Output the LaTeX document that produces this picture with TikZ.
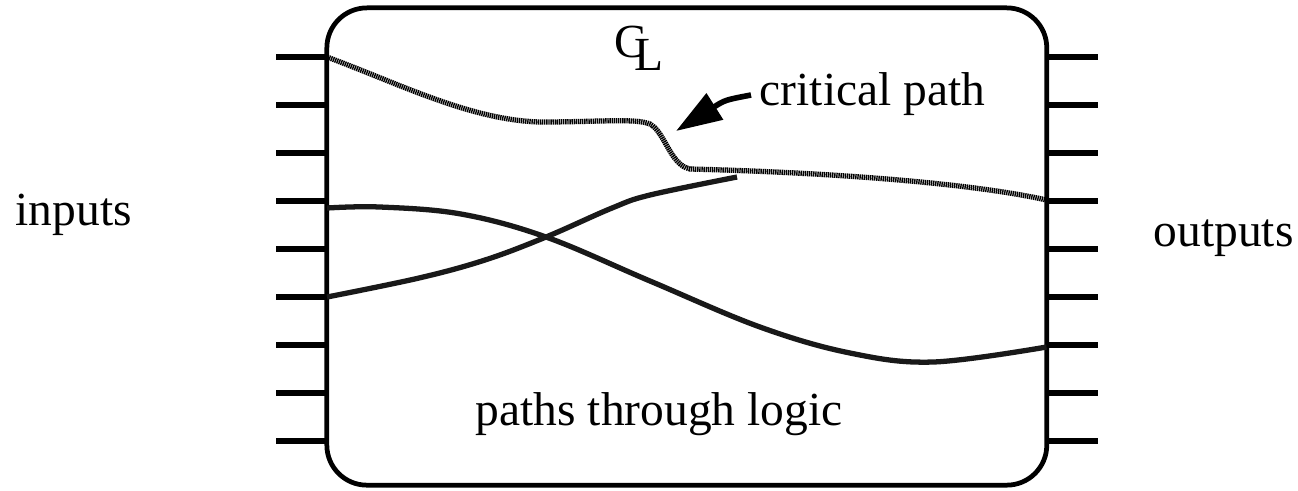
\documentclass[tikz,border=0pt]{standalone}
\usepackage{fontspec}
\setmainfont{Liberation Serif}
\usetikzlibrary{arrows.meta}
\begin{document}
\begin{tikzpicture}[x=0.01cm,y=-0.01cm,
  stub/.style={line width=1.75pt},
  wire/.style={line width=1.5pt, line join=round, draw=black!90},
  crit/.style={line width=1.5pt, dash pattern=on 0.4pt off 0.2pt},
  lbl/.style={anchor=base west, inner sep=0pt, font=\fontsize{13.5}{16}\selectfont}]
\useasboundingbox[fill=white] (0,0) rectangle (1298,490);
\node[draw, line width=1.35pt, rounded corners=0.4cm, minimum width=7.195cm, minimum height=4.77cm, inner sep=0pt] (box) at (686.8,246.5) {};
\foreach \i in {0,...,8} {
  \draw[stub] (276,{56.7+48*\i}) -- (327,{56.7+48*\i});
  \draw[stub] (1046,{56.7+48*\i}) -- (1098,{56.7+48*\i});
}
% end points
\coordinate (cin) at (327,57);
\coordinate (cout) at (1046.5,200);
\coordinate (ain) at (327,208);
\coordinate (aout) at (1046.5,347);
\coordinate (bin) at (327,297);
\coordinate (bend) at (737,177);
\coordinate (atail) at (751,95);
\coordinate (atip) at (676,131);
% paths
\draw[wire] plot[smooth, tension=0.6] coordinates {(ain) (380,207) (461,214) (546,237) (650,281) (760,327) (850,353) (933,362) (1046.5,347)};
\draw[wire] plot[smooth, tension=0.6] coordinates {(bin) (419,278) (485,260) (546,237) (612,208) (650,195) (bend)};
\draw[crit] (cin) .. controls (400,84) and (470,120) .. (540,122)
  .. controls (600,122) and (635,118) .. (650,124)
  .. controls (665,132) and (670,165) .. (690,169)
  .. controls (850,173) and (980,185) .. (cout);
\draw[line width=1.6pt, -{Triangle[length=0.46cm,width=0.3cm]}] (atail) .. controls (725,100) .. (atip);
% labels
\node[lbl] (inputs) at (15,225.5) {inputs};
\node[lbl] (outputs) at (1153,246) {outputs};
\node[lbl] (ptl) at (475,425) {paths through logic};
\node[lbl] (cp) at (759,105) {critical path};
\node[lbl] (C) at (614,57) {C};
\node[lbl] (L) at (634,70) {L};
\end{tikzpicture}
\end{document}
